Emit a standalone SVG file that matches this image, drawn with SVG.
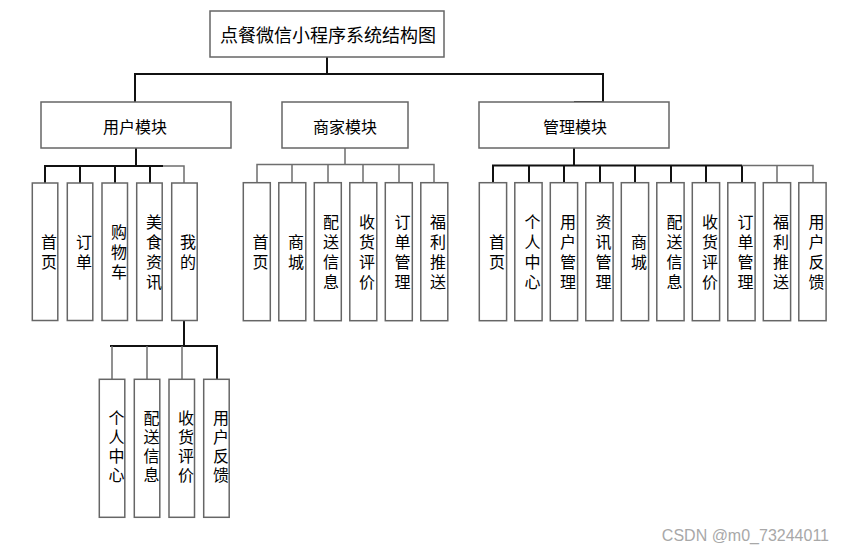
<svg xmlns="http://www.w3.org/2000/svg" width="845" height="554" viewBox="0 0 845 554">
<style>
.box{fill:#fff;stroke:#666;stroke-width:1.5}
.dk{fill:none;stroke:#111;stroke-width:2}
.gr{fill:none;stroke:#6e6e6e;stroke-width:1.5}
text{font-family:"Noto Sans CJK SC","Noto Sans",sans-serif;fill:#000}
.t{font-size:18px;text-anchor:middle;dominant-baseline:central}
.m{font-size:16px;text-anchor:middle;dominant-baseline:central}
.v{font-size:16px;text-anchor:middle;writing-mode:vertical-rl;letter-spacing:4px}
.v2{font-size:16px;text-anchor:middle;writing-mode:vertical-rl;letter-spacing:3px}
.wm{font-family:"Liberation Sans",Arial,sans-serif;font-size:16px;fill:#a8a8a8;text-anchor:end}
</style>
<rect width="845" height="554" fill="#fff"/>
<g id="connectors">
<path class="dk" d="M327 57V74M135 102V74H603V102H574"/>
<path class="dk" d="M136 148V166M45 183V166H163M45 166V183M80 166V183M115 166V183M150 166V183"/>
<path class="gr" d="M163 166H184V183"/>
<path class="dk" d="M184 320V346M110 346H217V379"/>
<path class="gr" d="M112 346V379M147 346V379M182 346V379"/>
<path class="gr" d="M345 148V164.5M257 182.5V164.5H434V182.5M292 164.5V182.5M328 164.5V182.5M363 164.5V182.5M399 164.5V182.5"/>
<path class="dk" d="M574 148V165.5M493 182.5V165.5H742M529 165.5V182.5M564 165.5V182.5M600 165.5V182.5M635 165.5V182.5M671 165.5V182.5M706 165.5V182.5M742 165.5V182.5"/>
<path class="gr" d="M742 165.5H813V182.5M777 165.5V182.5"/>
</g>
<g id="title"><rect class="box" x="210" y="11" width="234" height="46"/><text class="t" x="328" y="34">点餐微信小程序系统结构图</text></g>
<g id="user"><rect class="box" x="41" y="102" width="190" height="46"/><text class="m" x="135" y="126">用户模块</text></g>
<g id="merchant"><rect class="box" x="282" y="102" width="126" height="46"/><text class="m" x="345" y="126">商家模块</text></g>
<g id="admin"><rect class="box" x="479" y="102" width="190" height="46"/><text class="m" x="575" y="126">管理模块</text></g>

<g id="u1"><rect class="box" x="32.3" y="183" width="25.5" height="137.5"/><text class="v" x="49" y="253.5">首页</text></g>
<g id="u2"><rect class="box" x="67.3" y="183" width="25.5" height="137.5"/><text class="v" x="84" y="253.5">订单</text></g>
<g id="u3"><rect class="box" x="102" y="183" width="25.5" height="137.5"/><text class="v" x="119" y="253.5">购物车</text></g>
<g id="u4"><rect class="box" x="136.7" y="183" width="25.5" height="137.5"/><text class="v" x="154" y="253.5">美食资讯</text></g>
<g id="u5"><rect class="box" x="171.7" y="183" width="25.5" height="137.5"/><text class="v" x="188" y="253.5">我的</text></g>

<g id="b1"><rect class="box" x="99.3" y="379.3" width="25.5" height="138"/><text class="v2" x="116.5" y="448">个人中心</text></g>
<g id="b2"><rect class="box" x="134.3" y="379.3" width="25.5" height="138"/><text class="v2" x="151.5" y="448">配送信息</text></g>
<g id="b3"><rect class="box" x="169" y="379.3" width="25.5" height="138"/><text class="v2" x="186" y="448">收货评价</text></g>
<g id="b4"><rect class="box" x="203.7" y="379.3" width="25.5" height="138"/><text class="v2" x="221" y="448">用户反馈</text></g>

<g id="m1"><rect class="box" x="243.3" y="182.7" width="27" height="138"/><text class="v" x="260.5" y="253.5">首页</text></g>
<g id="m2"><rect class="box" x="278.8" y="182.7" width="27" height="138"/><text class="v" x="296" y="253.5">商城</text></g>
<g id="m3"><rect class="box" x="314.3" y="182.7" width="27" height="138"/><text class="v" x="331" y="253.5">配送信息</text></g>
<g id="m4"><rect class="box" x="349.8" y="182.7" width="27" height="138"/><text class="v" x="367" y="253.5">收货评价</text></g>
<g id="m5"><rect class="box" x="385.3" y="182.7" width="27" height="138"/><text class="v" x="402.5" y="253.5">订单管理</text></g>
<g id="m6"><rect class="box" x="420.8" y="182.7" width="27" height="138"/><text class="v" x="438" y="253.5">福利推送</text></g>

<g id="a1"><rect class="box" x="479.3" y="182.7" width="27.3" height="138"/><text class="v" x="497" y="253.5">首页</text></g>
<g id="a2"><rect class="box" x="514.8" y="182.7" width="27.3" height="138"/><text class="v" x="532.5" y="253.5">个人中心</text></g>
<g id="a3"><rect class="box" x="550.3" y="182.7" width="27.3" height="138"/><text class="v" x="568" y="253.5">用户管理</text></g>
<g id="a4"><rect class="box" x="585.8" y="182.7" width="27.3" height="138"/><text class="v" x="603.5" y="253.5">资讯管理</text></g>
<g id="a5"><rect class="box" x="621.3" y="182.7" width="27.3" height="138"/><text class="v" x="639" y="253.5">商城</text></g>
<g id="a6"><rect class="box" x="656.8" y="182.7" width="27.3" height="138"/><text class="v" x="674.5" y="253.5">配送信息</text></g>
<g id="a7"><rect class="box" x="692.3" y="182.7" width="27.3" height="138"/><text class="v" x="710" y="253.5">收货评价</text></g>
<g id="a8"><rect class="box" x="727.8" y="182.7" width="27.3" height="138"/><text class="v" x="745.5" y="253.5">订单管理</text></g>
<g id="a9"><rect class="box" x="763.3" y="182.7" width="27.3" height="138"/><text class="v" x="781" y="253.5">福利推送</text></g>
<g id="a10"><rect class="box" x="798.8" y="182.7" width="27.3" height="138"/><text class="v" x="816.5" y="253.5">用户反馈</text></g>

<text class="wm" x="829" y="541">CSDN @m0_73244011</text>
</svg>
